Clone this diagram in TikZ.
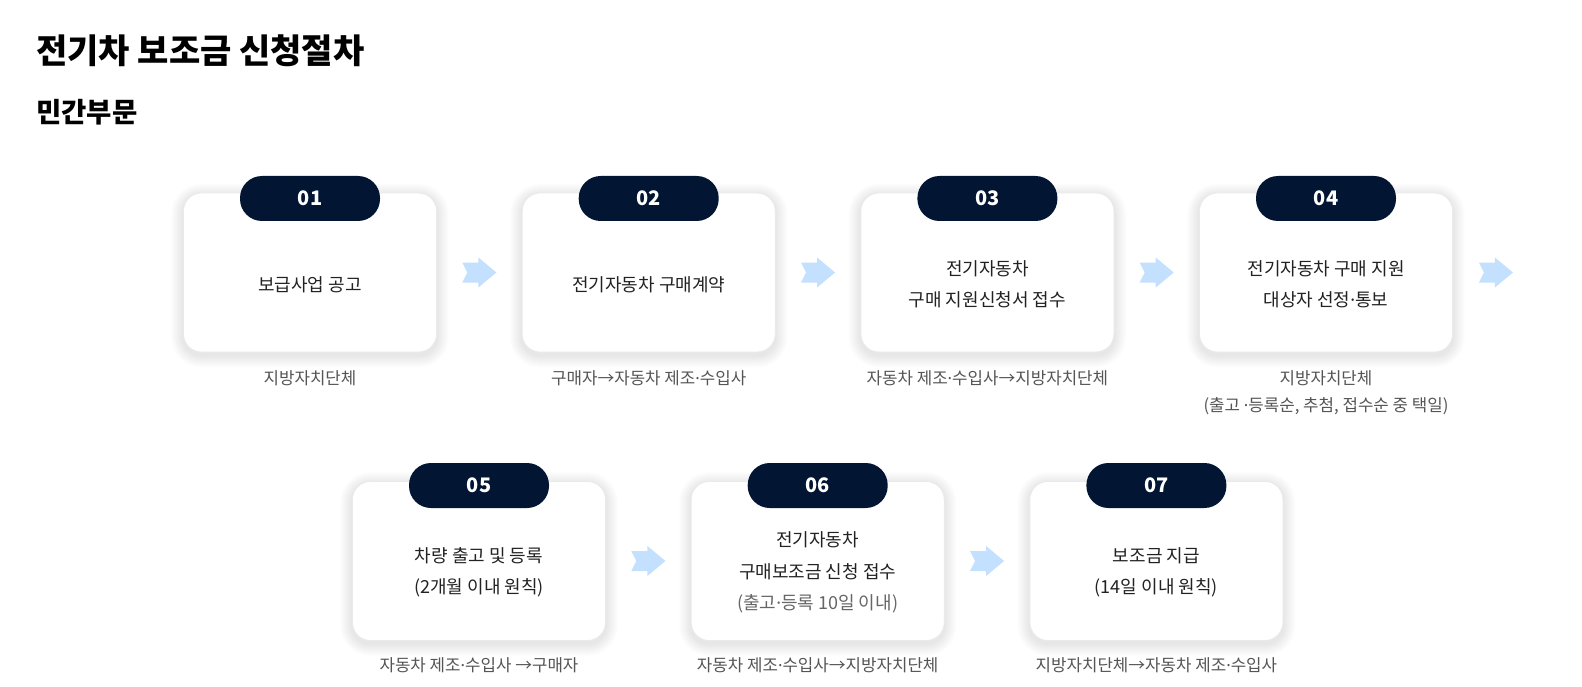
\documentclass[tikz,border=0pt]{standalone}
\usepackage{fontspec}
\setmainfont{Noto Sans CJK KR}
\newfontfamily\latinf{Noto Sans}
\newcommand{\mdot}{{\latinf ·}}
\usetikzlibrary{calc}
\pgfdeclarelayer{shadowlayer}
\pgfsetlayers{shadowlayer,main}
\definecolor{navy}{RGB}{2,22,52}
\definecolor{arrowblue}{RGB}{196,224,255}
\definecolor{cardline}{RGB}{234,234,234}
\definecolor{maintext}{RGB}{34,34,34}
\definecolor{subtext}{RGB}{85,85,85}
\definecolor{notetext}{RGB}{102,102,102}
\tikzset{
  card/.style={draw=cardline, line width=0.8pt, fill=white, rounded corners=18pt,
    minimum width=253pt, minimum height=159pt, inner sep=0pt},
  badge/.style={fill=navy, rounded corners=22pt, minimum width=140pt, minimum height=45pt,
    inner sep=0pt, text=white, font=\fontsize{20}{20}\selectfont\bfseries},
  steptext/.style={align=center, inner sep=0pt, text=maintext, font=\fontsize{18}{31.5}\selectfont},
  actor/.style={align=center, inner sep=0pt, anchor=north, text=subtext, font=\fontsize{16.8}{27}\selectfont},
  softshadow/.style={fill=black, opacity=0.007},
  chev/.pic={\fill[arrowblue] (-17,-10) -- (-1,-10) -- (-1,-15) -- (17,0) -- (-1,15) -- (-1,10) -- (-17,10) -- (-12,0) -- cycle;}
}
\begin{document}
\begin{tikzpicture}[x=1pt, y=-1pt]
\useasboundingbox (0,0) rectangle (1582,687);
\begin{pgfonlayer}{shadowlayer}
\fill[white] (0,0) rectangle (1582,687);
\end{pgfonlayer}

\node[anchor=west, inner sep=0pt, font=\fontsize{34}{34}\selectfont\bfseries] (title) at (36,51) {전기차 보조금 신청절차};
\node[anchor=west, inner sep=0pt, font=\fontsize{27.5}{27.5}\selectfont\bfseries] (subtitle) at (36,112) {민간부문};

% row 1 cards
\node[card] (c1) at (310,272.5) {};
\node[card] (c2) at (648.7,272.5) {};
\node[card] (c3) at (987.4,272.5) {};
\node[card] (c4) at (1326,272.5) {};
% row 2 cards
\node[card] (c5) at (479,561) {};
\node[card] (c6) at (817.7,561) {};
\node[card] (c7) at (1156.4,561) {};

% soft shadows behind the cards
\begin{pgfonlayer}{shadowlayer}
\foreach \c in {c1,c2,c3,c4,c5,c6,c7}{
  \foreach \k in {1,2,...,12}{
    \fill[softshadow, rounded corners=18pt+\k pt]
      ($(\c.south west)+(-\k,\k+3)$) rectangle ($(\c.north east)+(\k,-\k+3)$);
  }
}
\end{pgfonlayer}

% badges
\node[badge] (b1) at (310,198.5) {01};
\node[badge] (b2) at (648.7,198.5) {02};
\node[badge] (b3) at (987.4,198.5) {03};
\node[badge] (b4) at (1326,198.5) {04};
\node[badge] (b5) at (479,485.5) {05};
\node[badge] (b6) at (817.7,485.5) {06};
\node[badge] (b7) at (1156.4,485.5) {07};

% step texts
\node[steptext] (t1) at (310,284.5) {보급사업 공고};
\node[steptext] (t2) at (648.7,284.5) {전기자동차 구매계약};
\node[steptext] (t3) at (987.4,284.5) {전기자동차\\구매 지원신청서 접수};
\node[steptext] (t4) at (1326,284.5) {전기자동차 구매 지원\\대상자 선정\mdot 통보};
\node[steptext] (t5) at (479,572.5) {차량 출고 및 등록\\(2개월 이내 원칙)};
\node[steptext] (t6) at (817.7,572.5) {전기자동차\\구매보조금 신청 접수\\\textcolor{notetext}{(출고\mdot 등록 10일 이내)}};
\node[steptext] (t7) at (1156.4,572.5) {보조금 지급\\(14일 이내 원칙)};

% actors
\node[actor] (a1) at (310,370) {지방자치단체};
\node[actor] (a2) at (648.7,370) {구매자→자동차 제조\mdot 수입사};
\node[actor] (a3) at (987.4,370) {자동차 제조\mdot 수입사→지방자치단체};
\node[actor] (a4) at (1326,370) {지방자치단체\\(출고 \mdot 등록순, 추첨, 접수순 중 택일)};
\node[actor] (a5) at (479,657.5) {자동차 제조\mdot 수입사 →구매자};
\node[actor] (a6) at (817.7,657.5) {자동차 제조\mdot 수입사→지방자치단체};
\node[actor] (a7) at (1156.4,657.5) {지방자치단체→자동차 제조\mdot 수입사};

% arrows
\path ($(c1.east)!0.5!(c2.west)$) pic {chev};
\path ($(c2.east)!0.5!(c3.west)$) pic {chev};
\path ($(c3.east)!0.5!(c4.west)$) pic {chev};
\path ($(c4.east)+(43,0)$) pic {chev};
\path ($(c5.east)!0.5!(c6.west)$) pic {chev};
\path ($(c6.east)!0.5!(c7.west)$) pic {chev};
\end{tikzpicture}
\end{document}
